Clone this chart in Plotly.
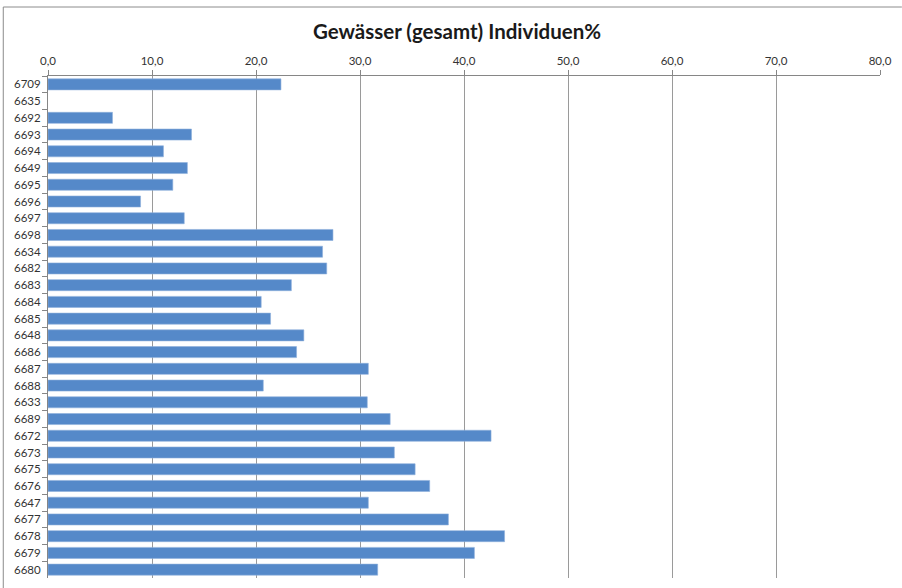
import plotly.graph_objects as go

categories = ["6709", "6635", "6692", "6693", "6694", "6649", "6695", "6696", "6697", "6698",
              "6634", "6682", "6683", "6684", "6685", "6648", "6686", "6687", "6688", "6633",
              "6689", "6672", "6673", "6675", "6676", "6647", "6677", "6678", "6679", "6680"]
values = [22.4, None, 6.2, 13.8, 11.1, 13.4, 12.0, 8.9, 13.1, 27.4,
          26.4, 26.8, 23.4, 20.5, 21.4, 24.6, 23.9, 30.8, 20.7, 30.7,
          32.9, 42.6, 33.3, 35.3, 36.7, 30.8, 38.5, 43.9, 41.0, 31.7]
x_tickvals = [0, 10, 20, 30, 40, 50, 60, 70, 80]
title_text = "Gewässer (gesamt) Individuen%"

W, H = 902, 588
L, R, T, B = 48, 17, 76, 10
pw, ph = W - L - R, H - T - B

def px_x(p):
    return (p - L) / pw

def px_y(p):
    return 1 - (p - T) / ph

fig = go.Figure(go.Bar(
    x=values, y=categories, orientation="h",
    marker=dict(color="#5589C9", line=dict(color="#8FB0DC", width=0.6)),
    width=0.66,
))

fig.update_layout(
    width=W, height=H,
    margin=dict(l=L, r=R, t=T, b=B),
    paper_bgcolor="white", plot_bgcolor="white",
    separators=",.",
    showlegend=False,
    font=dict(family="Lato, Open Sans, sans-serif", color="#333333", size=11),
    title=dict(text="<b>" + title_text + "</b>", x=457 / W, xref="container", xanchor="center",
               y=1 - 32 / H, yref="container", yanchor="middle",
               font=dict(size=20.5, color="#1a1a1a", family="Lato, Open Sans, sans-serif")),
    xaxis=dict(side="top", range=[0, 80], tickvals=x_tickvals, tickformat=".1f",
               showgrid=True, gridcolor="#9a9a9a", gridwidth=1,
               showline=True, linecolor="#868686", linewidth=1,
               ticks="outside", ticklen=5, tickcolor="#868686",
               zeroline=False, fixedrange=True, tickfont=dict(size=11.5, color="#333333")),
    yaxis=dict(type="category", autorange="reversed", tickson="boundaries",
               showline=True, linecolor="#868686", linewidth=1,
               ticks="outside", ticklen=5, tickcolor="#868686", ticklabelstandoff=4,
               showgrid=False, tickfont=dict(size=11.5, color="#333333")),
    shapes=[
        dict(type="line", xref="paper", yref="paper", x0=px_x(3), x1=px_x(W + 5), y0=px_y(7), y1=px_y(7),
             line=dict(color="#8c8c8c", width=1)),
        dict(type="line", xref="paper", yref="paper", x0=px_x(3), x1=px_x(3), y0=px_y(7), y1=px_y(H + 5),
             line=dict(color="#8c8c8c", width=1)),
    ],
)

fig.write_html(
    "out.html",
    config={"displayModeBar": False},
    post_script="document.body.style.margin='0';document.body.style.overflow='hidden';",
)
